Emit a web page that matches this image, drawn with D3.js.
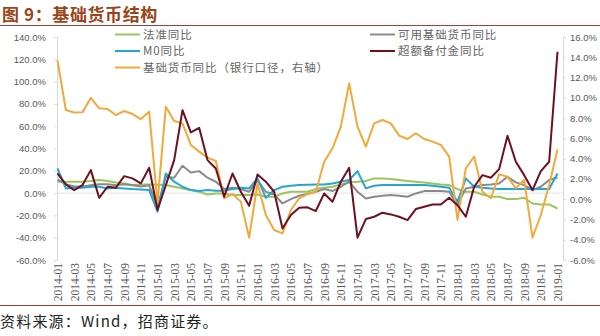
<!DOCTYPE html>
<html><head><meta charset="utf-8">
<script src="https://cdn.jsdelivr.net/npm/d3@7"></script>
<style>
body{margin:0;background:#fff;}
svg{display:block;}
</style></head>
<body>
<svg id="c" width="600" height="336"></svg>
<script>
// ---- data ----
const months = [];
for (let y = 2014; y <= 2019; y++) for (let m = 1; m <= 12; m++) { if (y === 2019 && m > 1) break; months.push(y + "-" + String(m).padStart(2, "0")); }

const legalReserve = [10.2,10.2,10.2,10.2,10.8,11.7,10.8,9.6,8.7,7.2,7.8,7.8,7.5,7.2,5.7,4.2,2.7,1.2,-1.2,-0.3,-0.3,-1.8,-1.8,-1.8,-1.2,-3.3,-3.3,-0.3,1.2,1.2,1.2,3.6,4.8,5.7,7.8,9.6,10.2,10.8,13.2,13.2,12.6,11.7,10.8,10.2,9.6,8.7,7.8,7.2,3.6,1.2,1.2,-1.2,-3.3,-3.3,-5.4,-5.4,-4.2,-9.3,-10.2,-10.2,-13.8];
const m0 = [22.1,4.2,4.8,4.8,5.7,5.7,4.2,4.8,4.2,3.6,3.3,2.7,-16.7,17.6,10.2,5.7,2.7,1.8,2.7,2.1,2.1,3.6,4.8,4.2,13.2,-4.2,2.7,5.7,6.6,7.2,7.5,7.8,7.8,8.7,10.2,11.7,19.7,4.2,6.6,7.2,7.2,7.2,7.2,7.2,7.2,6.6,5.7,4.8,-7.8,13.2,5.7,4.8,4.2,3.6,3.6,3.6,3.6,3.6,3.6,3.6,17.6];
const usableBase = [12,8,6,6,7,8,8,7,8,7,6,7,-12,14.6,13.8,24.5,18.5,19.7,13.8,10.2,3.6,4.8,3.6,1.2,11.7,1.2,-1.2,-9.3,-5.4,-2.4,-0.8,1.2,3.6,1.8,5.7,10.2,1.2,-4.8,-3.3,-2.4,-1.8,-2.4,-3.3,-0.3,1.8,1.8,1.8,1.2,-10.8,4.2,5.7,7.2,7.8,8.7,14.6,9.6,7.2,2.7,5.7,11.7,14];
const excessReserve = [17.6,7.8,2.7,7.2,20.6,-4.2,5.7,4.8,15.2,13.2,8.7,22.7,-15.2,7.2,29.6,74.4,54.4,58.6,29.6,22.1,-3.3,17.6,1.2,-11.4,16.7,10.2,1.2,-31.7,-19.7,-13.2,-12.8,-16.1,-0.3,-7.8,10.2,22.7,-40,-23.3,-21.2,-17.6,-19.1,-21.2,-24.2,-14.3,-12.3,-10.2,-10.2,-4.2,-10.8,-21.2,5.7,16.1,13.8,21.5,51.4,28.1,16.1,2.7,19.7,28.1,126.8];
const baseMoney = [13.7,8.8,8.54,8.57,10.0,8.96,8.9,8.3,8.7,8.4,7.9,8.63,-0.4,9.13,7.72,7.48,5.35,4.69,4.1,3.77,0.09,0.51,-0.24,-3.8,1.57,-1.56,-3.04,-3.37,-1.07,0.09,0.5,0.74,3.7,5.02,7.16,11.43,7.16,5.18,7.48,7.81,7.48,6.27,5.94,6.5,5.94,5.68,5.35,4.2,-2.05,3.05,4.2,0.74,0.09,2.45,2.22,1.07,1.89,-3.8,-1.56,1.4,4.9];

const leftTicks = [-60,-40,-20,0,20,40,60,80,100,120,140];
const rightTicks = [-6,-4,-2,0,2,4,6,8,10,12,14,16];
const xTickLabels = months.filter((d, i) => i % 2 === 0);

const seriesNames = ["法准同比","M0同比","基础货币同比（银行口径，右轴）","可用基础货币同比","超额备付金同比"];
const seriesColors = ["#9bc55a","#25a6d2","#f2a93b","#8a8a8a","#6e1020"];

// ---- chart ----
const svg = d3.select("#c");
const x = d3.scalePoint().domain(months).range([57.5, 557.5]);
const yL = d3.scaleLinear().domain([-60, 140]).range([260, 37]);
const yR = d3.scaleLinear().domain([-6, 16]).range([260, 37]);

// title
svg.append("text").attr("x", 2).attr("y", 20.5)
  .attr("font-family", "'Noto Sans CJK SC'").attr("font-weight", "bold")
  .attr("font-size", 17).attr("letter-spacing", 0.6).attr("fill", "#9a4419").text("图 9：基础货币结构");
svg.append("line").attr("x1", 0).attr("x2", 600).attr("y1", 25.5).attr("y2", 25.5)
  .attr("stroke", "#a0403a").attr("stroke-width", 1.2);
svg.append("line").attr("x1", 0).attr("x2", 600).attr("y1", 305.5).attr("y2", 305.5)
  .attr("stroke", "#a0403a").attr("stroke-width", 1.2);
svg.append("text").attr("x", 0).attr("y", 327)
  .attr("font-family", "'Noto Sans CJK SC'").attr("font-size", 15).attr("letter-spacing", 1.2).attr("fill", "#222")
  .text("资料来源：Wind，招商证券。");

// axes
const axFont = "'Liberation Sans', Arial, sans-serif";
const gL = svg.append("g").attr("transform", "translate(57,0)")
  .call(d3.axisLeft(yL).tickValues(leftTicks).tickSize(3).tickPadding(8).tickFormat(d => d.toFixed(1) + "%"));
const gR = svg.append("g").attr("transform", "translate(563,0)")
  .call(d3.axisRight(yR).tickValues(rightTicks).tickSize(3).tickPadding(4).tickFormat(d => d.toFixed(1) + "%"));
[gL, gR].forEach(g => {
  g.select(".domain").attr("stroke", "#d9d9d9");
  g.selectAll(".tick line").attr("stroke", "#d9d9d9");
  g.selectAll("text").attr("font-family", axFont).attr("font-size", 9.5).attr("fill", "#595959");
});

// zero (category) line
svg.append("line").attr("x1", 57).attr("x2", 563).attr("y1", yL(0)).attr("y2", yL(0))
  .attr("stroke", "#e3e3e3").attr("stroke-width", 1);

const gX = svg.append("g").attr("transform", "translate(0,260)")
  .call(d3.axisBottom(x).tickValues(xTickLabels).tickSize(0));
gX.select(".domain").remove();
gX.selectAll("text").attr("transform", "rotate(-90)").attr("x", -3).attr("y", 0).attr("dy", "0.35em")
  .attr("text-anchor", "end").attr("font-family", "'Liberation Serif', serif")
  .attr("font-size", 11.5).attr("fill", "#595959");

// lines
const lineL = d3.line().x((d, i) => x(months[i])).y(d => yL(d));
const lineR = d3.line().x((d, i) => x(months[i])).y(d => yR(d));
const draw = [
  [legalReserve, lineL, 0],
  [usableBase, lineL, 3],
  [m0, lineL, 1],
  [baseMoney, lineR, 2],
  [excessReserve, lineL, 4]
];
draw.forEach(([data, gen, ci]) => {
  svg.append("path").datum(data).attr("d", gen).attr("fill", "none")
    .attr("stroke", seriesColors[ci]).attr("stroke-width", 2).attr("stroke-linejoin", "round");
});

// legend
const legendItems = [
  {i: 0, x: 115, y: 34.5},
  {i: 1, x: 115, y: 51},
  {i: 2, x: 115, y: 67.5},
  {i: 3, x: 370, y: 34.5},
  {i: 4, x: 370, y: 51}
];
legendItems.forEach(l => {
  svg.append("line").attr("x1", l.x).attr("x2", l.x + 25).attr("y1", l.y).attr("y2", l.y)
    .attr("stroke", seriesColors[l.i]).attr("stroke-width", 2);
  svg.append("text").attr("x", l.x + 28).attr("y", l.y).attr("dy", "0.36em")
    .attr("font-family", "'Noto Sans CJK SC'").attr("font-size", 11.5).attr("letter-spacing", 0.9).attr("fill", "#666")
    .text(seriesNames[l.i]);
});
</script>
</body></html>
